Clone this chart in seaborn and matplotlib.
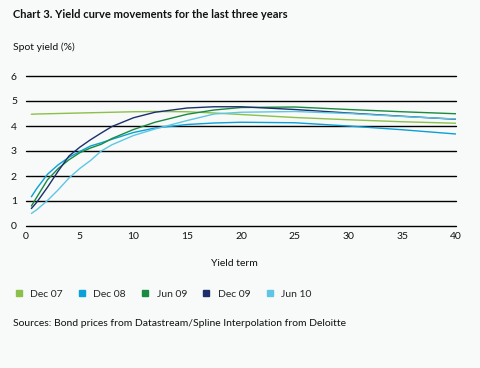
import numpy as np
import pandas as pd
import matplotlib
matplotlib.use("Agg")
import matplotlib.pyplot as plt
from matplotlib.lines import Line2D
import seaborn as sns

# yield term (years)
term = [0.5, 1, 2, 3, 4, 5, 6, 7, 8, 10, 12, 15, 17.5, 20, 25, 30, 35, 40]

# spot yields (%)
dec07 = [4.47, 4.48, 4.49, 4.50, 4.51, 4.52, 4.53, 4.54, 4.55, 4.57, 4.58, 4.57, 4.52, 4.46, 4.34, 4.25, 4.17, 4.11]
dec08 = [1.17, 1.50, 2.07, 2.45, 2.75, 2.98, 3.20, 3.33, 3.47, 3.74, 3.92, 4.06, 4.12, 4.15, 4.13, 4.00, 3.85, 3.68]
jun09 = [0.80, 1.15, 1.85, 2.30, 2.65, 2.93, 3.12, 3.27, 3.50, 3.86, 4.15, 4.47, 4.64, 4.74, 4.76, 4.66, 4.57, 4.49]
dec09 = [0.70, 0.95, 1.55, 2.20, 2.80, 3.15, 3.45, 3.72, 3.98, 4.33, 4.55, 4.72, 4.77, 4.77, 4.66, 4.52, 4.39, 4.27]
jun10 = [0.50, 0.65, 1.02, 1.45, 1.92, 2.30, 2.62, 3.00, 3.25, 3.62, 3.88, 4.22, 4.48, 4.55, 4.58, 4.50, 4.38, 4.28]

series = ["Dec 07", "Dec 08", "Jun 09", "Dec 09", "Jun 10"]
colours = ["#8cc04a", "#0aa0d8", "#1a8a40", "#1c2f6b", "#5ec6e4"]

df = pd.DataFrame({"term": term, "Dec 07": dec07, "Dec 08": dec08,
                   "Jun 09": jun09, "Dec 09": dec09, "Jun 10": jun10})
long_df = df.melt(id_vars="term", var_name="curve", value_name="yield")

sns.set_theme(style="white")
plt.rcParams["font.family"] = ["Lato", "DejaVu Sans"]
bg = "#f7faf8"

fig = plt.figure(figsize=(4.8, 3.68), dpi=100, facecolor=bg)
ax = fig.add_axes([26 / 480, 1 - 226 / 368, 430 / 480, 150 / 368])
ax.set_facecolor(bg)

sns.lineplot(data=long_df, x="term", y="yield", hue="curve", hue_order=series,
             palette=colours, linewidth=1.0, legend=False, ax=ax)

ax.set_xlim(0, 40)
ax.set_ylim(0, 6)
ax.set_xticks(range(0, 41, 5))
ax.set_yticks(range(0, 7))
for y in range(0, 7):
    ax.axhline(y, color="black", linewidth=1.0, zorder=0, clip_on=False)
sns.despine(ax=ax, left=True, bottom=True)
ax.tick_params(axis="both", length=0, labelsize=7.5, colors="#111111")
ax.tick_params(axis="y", pad=6.5)
ax.tick_params(axis="x", pad=4.5)
ax.set_xlabel("")
ax.set_ylabel("")

fig.text(13 / 480, 1 - 15 / 368, "Chart 3. Yield curve movements for the last three years",
         fontsize=8, fontweight="bold", va="center", ha="left", color="#111111")
fig.text(13 / 480, 1 - 47 / 368, "Spot yield (%)", fontsize=7.5, va="center", ha="left",
         color="#111111")
fig.text(234 / 480, 1 - 263 / 368, "Yield term", fontsize=7.5, va="center", ha="center",
         color="#111111")
fig.text(13 / 480, 1 - 324 / 368,
         "Sources: Bond prices from Datastream/Spline Interpolation from Deloitte",
         fontsize=7.5, va="center", ha="left", color="#111111")

handles = [Line2D([], [], marker="s", linestyle="none", markersize=5,
                  markerfacecolor=c, markeredgecolor=c) for c in colours]
fig.legend(handles, series, loc="center left", bbox_to_anchor=(4 / 480, 1 - 294 / 368),
           ncol=5, frameon=False, fontsize=7.5, handletextpad=0.6, columnspacing=1.35,
           handlelength=1.0)

fig.savefig("out.png", dpi=100, facecolor=bg)
